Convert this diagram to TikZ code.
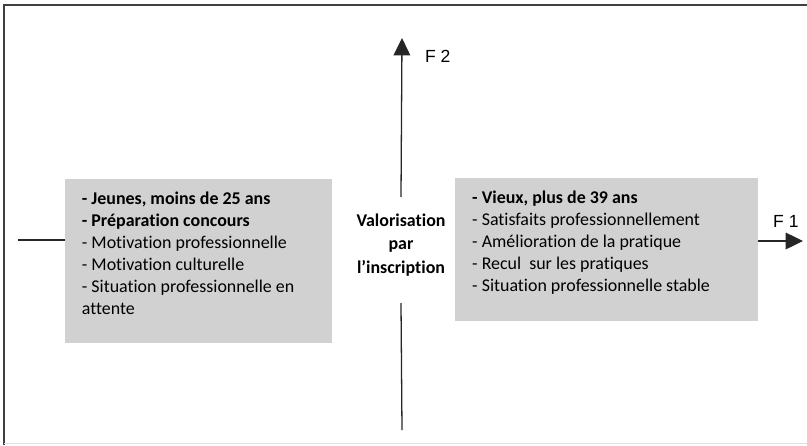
\documentclass[tikz,border=0pt]{standalone}
\usepackage{fontspec}
\setmainfont{Carlito}[Ligatures=NoCommon]
\newfontfamily\axisfont{Liberation Sans}
\usetikzlibrary{arrows.meta, positioning}

\begin{document}
\begin{tikzpicture}[x=0.03cm, y=-0.03cm,
    frameline/.style={draw=black!75, line width=1.2pt},
    axisline/.style={draw=black!85, line width=1.1pt},
    axisarrow/.style={axisline, -{Triangle[length=0.52cm, width=0.5cm]}},
    groupbox/.style={rectangle, fill=black!18, anchor=north west, inner ysep=0pt, inner xsep=0.5cm, font=\fontsize{15.3}{18.8}\selectfont},
    centrelabel/.style={align=center, font=\fontsize{15.3}{20}\selectfont\bfseries},
    axislabel/.style={font=\axisfont\fontsize{15}{18}\selectfont, anchor=west}
]
\useasboundingbox (0,0) rectangle (807,445);
% frame, cut off on the right
\draw[frameline] (807,5) -- (4,5) -- (4,445);
\draw[black!12, line width=0.8pt] (4,443) -- (807,443);

% the two groups, one on each side of F2
\node[groupbox] (jeunes) at (65,179) {\parbox[c][4.92cm][t]{7.0cm}{\raggedright\vspace*{0.37cm}%
  \textbf{- Jeunes, moins de 25 ans}\\
  \textbf{- Préparation concours}\\
  - Motivation professionnelle\\
  - Motivation culturelle\\
  - Situation professionnelle en\\
  attente}};
\node[groupbox, inner xsep=0.51cm] (vieux) at (455,178) {\parbox[c][4.29cm][t]{8.07cm}{\raggedright\vspace*{0.37cm}%
  \textbf{- Vieux, plus de 39 ans}\\
  - Satisfaits professionnellement\\
  - Amélioration de la pratique\\
  - Recul\ \ sur les pratiques\\
  - Situation professionnelle stable}};

% label at the crossing of the axes
\node[centrelabel] (valo) at (401,245) {Valorisation\\par\\l’inscription};

% F2, vertical axis
\coordinate (f2haut) at (402,38);
\coordinate (f2bas) at (402,430);
\draw[axisarrow] (valo.north |- 0,197) -- (f2haut);
\draw[axisline] (valo.south |- 0,303) -- (f2bas);
\node[axislabel] (f2) at (421,56) {F 2};

% F1, horizontal axis
\coordinate (f1gauche) at (18,240);
\coordinate (f1droite) at (803,241);
\draw[axisline] (f1gauche) -- (f1gauche -| jeunes.west);
\draw[axisarrow] (f1droite -| vieux.east) -- (f1droite);
\node[axislabel] (f1) at (769,221) {F 1};
\end{tikzpicture}
\end{document}
